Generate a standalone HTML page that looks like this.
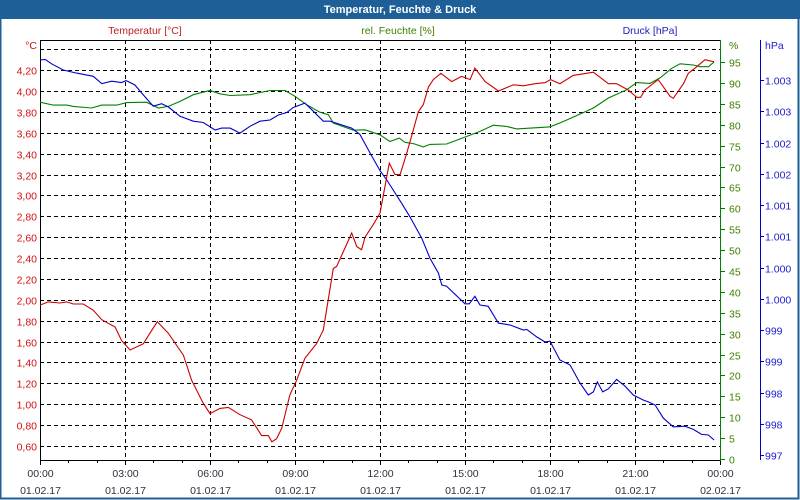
<!DOCTYPE html>
<html><head><meta charset="utf-8"><style>
body{margin:0;background:#fff;}
svg{display:block;font-family:"Liberation Sans",sans-serif;}
</style></head><body>
<svg id="chart" width="800" height="500" xmlns="http://www.w3.org/2000/svg">
<rect x="0" y="0" width="800" height="500" fill="#fff"/>
<rect x="0" y="0" width="800" height="19" fill="#1f5f98"/>
<rect x="0.5" y="0.5" width="798" height="498" fill="none" stroke="#1f5f98" stroke-width="2"/>
<text x="400" y="13" text-anchor="middle" fill="#fff" font-weight="bold" font-size="11">Temperatur, Feuchte &amp; Druck</text>
<text x="145" y="34" text-anchor="middle" fill="#c02020" font-size="10.5">Temperatur [°C]</text>
<text x="398" y="34" text-anchor="middle" fill="#408000" font-size="10.5">rel. Feuchte [%]</text>
<text x="650" y="34" text-anchor="middle" fill="#2020c0" font-size="10.5">Druck [hPa]</text>
<g id="grid"></g>
<g id="axes"></g>
<g id="series"></g>
</svg>
<script>
const timeTicks = [0,3,6,9,12,15,18,21,24];
const timeTickLabels = ["00:00","03:00","06:00","09:00","12:00","15:00","18:00","21:00","00:00"];
const dateTickLabels = ["01.02.17","01.02.17","01.02.17","01.02.17","01.02.17","01.02.17","01.02.17","01.02.17","02.02.17"];
const tempTicks = [0.6,0.8,1.0,1.2,1.4,1.6,1.8,2.0,2.2,2.4,2.6,2.8,3.0,3.2,3.4,3.6,3.8,4.0,4.2,4.4];
const humTicks = [0,5,10,15,20,25,30,35,40,45,50,55,60,65,70,75,80,85,90,95];
const pressTicks = [997,997.5,998,998.5,999,999.5,1000,1000.5,1001,1001.5,1002,1002.5,1003,1003.5];
const pressTickLabels = ["997","998","998","999","999","1.000","1.000","1.001","1.001","1.002","1.002","1.003","1.003",""];

const tempTimes = [0,0.29,0.71,0.94,1.18,1.53,1.88,2.18,2.65,2.88,3.18,3.65,3.88,4.14,4.53,5.06,5.35,5.76,6.00,6.35,6.65,7.06,7.47,7.82,8.06,8.18,8.35,8.53,8.82,9.06,9.35,9.76,10.0,10.35,10.47,11.0,11.18,11.35,11.47,11.76,12.0,12.33,12.53,12.71,12.94,13.18,13.35,13.53,13.71,13.88,14.15,14.53,14.88,15.18,15.35,15.71,16.18,16.71,17.06,17.47,17.82,18.02,18.35,18.82,19.53,20.06,20.35,20.76,21.06,21.2,21.35,21.82,22.24,22.35,22.71,22.88,23.12,23.47,23.79];
const tempValues = [1.95,1.98,1.97,1.98,1.96,1.96,1.90,1.81,1.74,1.61,1.52,1.58,1.68,1.79,1.68,1.47,1.23,1.01,0.91,0.96,0.97,0.90,0.85,0.70,0.70,0.64,0.67,0.77,1.09,1.23,1.44,1.58,1.71,2.30,2.32,2.64,2.51,2.48,2.60,2.72,2.83,3.31,3.20,3.20,3.40,3.63,3.80,3.87,4.04,4.11,4.17,4.09,4.14,4.11,4.22,4.09,4.00,4.06,4.05,4.07,4.08,4.11,4.07,4.15,4.18,4.07,4.07,4.01,3.94,3.94,4.01,4.11,3.95,3.93,4.07,4.17,4.22,4.30,4.28];

const humTimes = [0,0.47,0.94,1.18,1.82,2.18,2.71,3.06,3.76,4.18,4.53,4.94,5.41,6.0,6.35,6.71,7.41,8.12,8.65,9.0,9.41,9.88,10.18,10.35,11.06,11.47,12.0,12.35,12.68,12.88,13.18,13.53,13.76,14.35,14.82,15.53,16.0,16.47,16.82,17.76,18.0,18.41,18.94,19.53,20.06,20.71,21.06,21.53,21.88,22.29,22.59,23.06,23.29,23.59,23.79];
const humValues = [85.4,84.7,84.7,84.4,84.0,84.7,84.7,85.3,85.4,84.0,84.4,85.6,87.2,88.2,87.4,87.0,87.2,88.2,88.2,86.8,84.8,83.0,82.4,80.4,78.7,78.8,77.6,76.0,76.8,75.8,75.5,74.7,75.3,75.4,76.6,78.4,79.9,79.6,79.0,79.4,79.5,80.6,82.2,84.0,86.4,88.4,90.1,89.9,91.2,93.5,94.6,94.3,93.9,93.9,95.0];

const pressTimes = [0,0.18,0.41,0.82,1.29,1.88,2.18,2.53,2.88,3.04,3.35,3.65,4.0,4.29,4.53,4.94,5.41,5.76,6.18,6.41,6.71,7.06,7.41,7.76,8.12,8.41,8.71,8.94,9.35,9.65,10.0,10.24,10.59,11.0,11.29,11.65,12.0,12.24,12.76,13.06,13.47,13.76,14.06,14.18,14.35,15.0,15.15,15.35,15.53,15.82,16.18,16.59,17.06,17.18,17.53,17.82,18.0,18.35,18.71,19.06,19.35,19.53,19.67,19.86,20.06,20.35,20.65,20.94,21.29,21.47,21.71,22.0,22.35,22.76,23.06,23.35,23.59,23.79];
const pressValues = [1003.32,1003.33,1003.26,1003.16,1003.11,1003.06,1002.94,1002.98,1002.96,1002.99,1002.92,1002.76,1002.58,1002.62,1002.57,1002.42,1002.34,1002.32,1002.20,1002.23,1002.23,1002.15,1002.26,1002.34,1002.36,1002.44,1002.48,1002.56,1002.63,1002.50,1002.34,1002.34,1002.29,1002.23,1002.13,1001.83,1001.55,1001.40,1001.03,1000.81,1000.47,1000.15,999.91,999.72,999.70,999.42,999.42,999.54,999.40,999.38,999.11,999.08,999.00,999.01,998.89,998.81,998.82,998.52,998.44,998.15,997.96,998.01,998.17,998.01,998.06,998.21,998.10,997.96,997.88,997.85,997.80,997.59,997.45,997.46,997.41,997.33,997.32,997.24];

const L=40, R=720, T=40, B=460;
const xS = h => L + h*(R-L)/24;
const yT = v => 446 - (v-0.6)*104.4;
const yH = v => 459 - v*4.178;
const yP = v => 455 - (v-997)*62.5;
const NS="http://www.w3.org/2000/svg";
function mk(tag, attrs, parent, txt){
  const e=document.createElementNS(NS,tag);
  for(const k in attrs) e.setAttribute(k,attrs[k]);
  if(txt!==undefined) e.textContent=txt;
  parent.appendChild(e); return e;
}
const grid=document.getElementById('grid'), axes=document.getElementById('axes'), ser=document.getElementById('series');
// horizontal gridlines + left labels
tempTicks.forEach(v=>{
  const y=Math.round(yT(v))+0.5;
  const g=mk('line',{x1:L,x2:R,y1:y,y2:y,stroke:'#000','stroke-dasharray':'4,3','stroke-width':1},grid);
  
  
  if(v<4.39){
    const t=mk('text',{x:37,y:y+4,'text-anchor':'end',fill:'#d01010','font-size':'10.5'},axes,v.toFixed(2).replace('.',','));
    
    
  }
});
const cu=mk('text',{x:37,y:49,'text-anchor':'end',fill:'#d01010','font-size':'10.5'},axes,'°C');


// vertical gridlines + x labels
timeTicks.forEach((h,i)=>{
  const x=Math.round(xS(h))+0.5;
  if(i>0&&i<timeTicks.length-1){
    const g=mk('line',{x1:x,x2:x,y1:T,y2:B,stroke:'#000','stroke-dasharray':'4,3'},grid);
    
    
  }
  const t1=mk('text',{x:x,y:477,'text-anchor':'middle',fill:'#303040','font-size':'10.5'},axes,timeTickLabels[i]);
  
  
  const t2=mk('text',{x:x,y:494,'text-anchor':'middle',fill:'#303040','font-size':'10.5'},axes,dateTickLabels[i]);
  
  
});
for(let h=0;h<=24;h++){
  const x=Math.round(xS(h))+0.5;
  const tk=mk('line',{x1:x,x2:x,y1:B,y2:B+(h%3===0?5:3),stroke:'#000'},axes);
  
  
}
// frame lines
let a=mk('line',{x1:L+0.5,x2:L+0.5,y1:T,y2:B+1,stroke:'#000'},axes);
 
a=mk('line',{x1:L,x2:R,y1:T+0.5,y2:T+0.5,stroke:'#000'},axes);
 
a=mk('line',{x1:L,x2:R,y1:B+0.5,y2:B+0.5,stroke:'#000'},axes);
 
a=mk('line',{x1:R+0.5,x2:R+0.5,y1:T,y2:B+1,stroke:'#008000'},axes);
 
a=mk('line',{x1:760.5,x2:760.5,y1:T,y2:B,stroke:'#0000cc'},axes);
 
humTicks.forEach(v=>{
  const y=Math.round(yH(v))+0.5;
  const tk=mk('line',{x1:R,x2:R+5,y1:y,y2:y,stroke:'#008000'},axes);
  
  
  const t=mk('text',{x:R+9,y:y+4,fill:'#408000','font-size':'10.5'},axes,String(v));
  
  
});
const hu=mk('text',{x:R+9,y:49,fill:'#408000','font-size':'10.5'},axes,'%');


pressTicks.forEach((v,i)=>{
  if(!pressTickLabels[i]) return;
  const y=Math.round(yP(v))+0.5;
  const tk=mk('line',{x1:760,x2:764,y1:y,y2:y,stroke:'#0000cc'},axes);
  
  
  const t=mk('text',{x:765,y:y+4,fill:'#2020d0','font-size':'10.5'},axes,pressTickLabels[i]);
  
  
});
const pu=mk('text',{x:765,y:49,fill:'#2020d0','font-size':'10.5'},axes,'hPa');


function line(times, vals, ys, color, name){
  const d=times.map((h,i)=>(i?'L':'M')+xS(h).toFixed(1)+','+ys(vals[i]).toFixed(1)).join('');
  const p=mk('path',{d:d,fill:'none',stroke:color,'stroke-width':1.1},ser);
  
  
}
line(humTimes,humValues,yH,'#008000','humidity-line');
line(pressTimes,pressValues,yP,'#0000cc','pressure-line');
line(tempTimes,tempValues,yT,'#cc0000','temperature-line');
</script>
</body></html>
